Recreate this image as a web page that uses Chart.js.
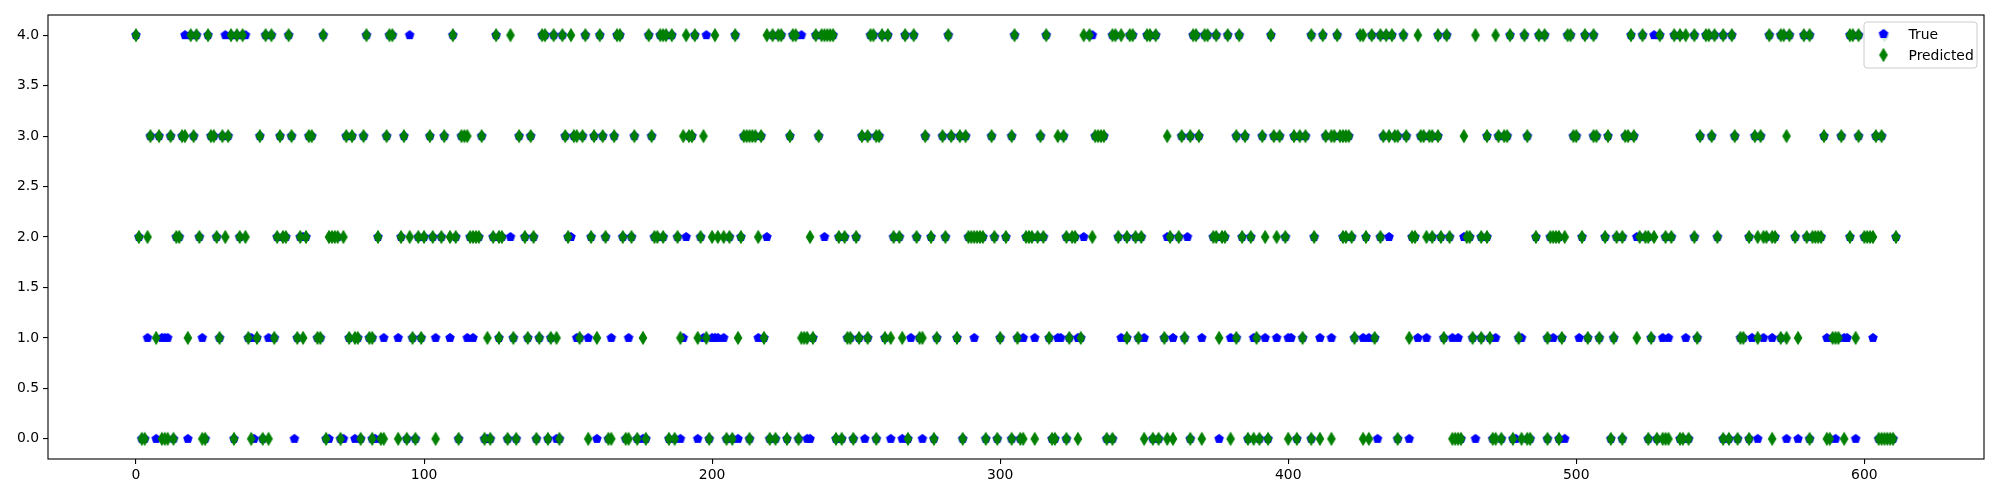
<!DOCTYPE html>
<html>
<head>
<meta charset="utf-8">
<script src="https://cdn.jsdelivr.net/npm/chart.js@4.4.1/dist/chart.umd.min.js"></script>
<style>
  html, body { margin: 0; padding: 0; background: #fff; }
  #wrap { width: 2000px; height: 500px; }
</style>
</head>
<body>
<div id="wrap"><canvas id="myChart"></canvas></div>
<script>
// classes on the y axis
const classes = [0, 1, 2, 3, 4];
const legendLabels = ['True', 'Predicted'];
const xTicks = [0, 100, 200, 300, 400, 500, 600];
const yTicks = [0, 0.5, 1, 1.5, 2, 2.5, 3, 3.5, 4];

// predicted class per sample index (green diamonds), one list per class
const predicted0 = [2, 3, 9, 10, 11, 13, 23, 24, 34, 40, 44, 46, 66, 71, 78, 82, 85, 86, 91, 94, 97, 104, 112, 121, 123, 129, 132, 139, 143, 147, 157, 164, 165, 170, 171, 174, 177, 185, 187, 199, 205, 207, 213, 220, 222, 226, 230, 243, 245, 249, 257, 268, 277, 287, 295, 299, 304, 307, 308, 312, 318, 319, 323, 327, 337, 339, 350, 353, 355, 358, 360, 366, 370, 380, 386, 388, 390, 393, 400, 403, 408, 411, 415, 426, 428, 438, 457, 458, 459, 460, 471, 472, 474, 478, 481, 483, 484, 490, 494, 512, 516, 525, 528, 530, 531, 532, 536, 537, 539, 551, 553, 556, 560, 568, 581, 587, 588, 593, 605, 606, 607, 608, 609, 610];
const predicted1 = [7, 18, 29, 39, 42, 48, 56, 58, 63, 64, 74, 76, 77, 81, 82, 96, 99, 122, 126, 131, 136, 140, 144, 146, 154, 160, 176, 189, 195, 198, 209, 218, 231, 232, 233, 235, 247, 248, 251, 254, 260, 262, 266, 272, 273, 278, 285, 300, 306, 317, 324, 328, 344, 348, 357, 364, 376, 382, 389, 405, 423, 430, 442, 454, 464, 467, 470, 480, 490, 495, 504, 508, 513, 521, 526, 542, 557, 558, 563, 571, 573, 577, 589, 590, 591, 597];
const predicted2 = [1, 4, 14, 15, 22, 28, 31, 36, 38, 49, 51, 52, 57, 59, 67, 68, 69, 70, 72, 84, 92, 95, 98, 100, 103, 106, 109, 111, 116, 117, 118, 119, 124, 126, 127, 135, 138, 150, 158, 163, 169, 172, 180, 181, 183, 188, 196, 200, 202, 204, 206, 210, 216, 234, 244, 246, 250, 263, 265, 271, 276, 281, 289, 290, 291, 292, 293, 294, 298, 302, 309, 310, 311, 313, 315, 323, 325, 326, 332, 341, 344, 347, 349, 359, 362, 374, 375, 377, 378, 384, 387, 392, 396, 399, 409, 419, 420, 422, 427, 432, 443, 444, 448, 450, 453, 456, 462, 463, 467, 469, 486, 491, 492, 493, 494, 496, 502, 510, 514, 516, 522, 524, 525, 527, 531, 533, 541, 549, 560, 563, 565, 566, 568, 569, 576, 580, 582, 583, 584, 585, 595, 600, 601, 602, 603, 611];
const predicted3 = [5, 8, 12, 16, 17, 20, 26, 27, 30, 32, 43, 50, 54, 60, 61, 73, 75, 79, 87, 93, 102, 107, 113, 114, 115, 120, 133, 137, 149, 152, 153, 155, 159, 162, 166, 173, 179, 190, 192, 193, 197, 211, 212, 213, 214, 215, 217, 227, 237, 252, 254, 257, 258, 274, 280, 283, 286, 288, 297, 304, 314, 320, 322, 333, 334, 335, 336, 358, 363, 366, 369, 382, 385, 391, 395, 397, 402, 404, 406, 413, 415, 416, 418, 419, 420, 421, 433, 435, 437, 438, 441, 446, 447, 449, 450, 452, 461, 469, 473, 475, 476, 483, 499, 500, 506, 507, 511, 517, 518, 520, 543, 547, 555, 562, 564, 573, 586, 592, 598, 604, 606];
const predicted4 = [0, 19, 21, 25, 33, 35, 37, 45, 47, 53, 65, 80, 88, 89, 110, 125, 130, 141, 142, 145, 148, 151, 156, 161, 167, 168, 178, 182, 183, 184, 186, 191, 194, 201, 208, 219, 221, 223, 224, 228, 229, 236, 238, 239, 240, 241, 242, 255, 256, 259, 261, 267, 270, 282, 305, 316, 329, 331, 339, 340, 342, 345, 346, 351, 352, 354, 367, 368, 371, 372, 375, 379, 383, 394, 408, 412, 417, 425, 426, 429, 432, 434, 436, 440, 445, 452, 455, 465, 472, 477, 482, 487, 489, 497, 498, 503, 506, 519, 523, 529, 534, 536, 538, 541, 545, 546, 548, 551, 554, 567, 571, 572, 574, 579, 581, 595, 596, 598, 607];

// true class where it differs from the prediction (blue pentagons that show)
const actual0 = [7, 18, 41, 55, 67, 72, 76, 83, 122, 146, 160, 176, 189, 195, 209, 233, 234, 253, 262, 266, 273, 376, 431, 442, 465, 479, 496, 563, 573, 577, 590, 597];
const actual1 = [4, 9, 10, 11, 23, 40, 46, 86, 91, 104, 109, 115, 117, 153, 157, 165, 171, 190, 197, 200, 201, 202, 204, 216, 269, 291, 308, 312, 320, 321, 327, 342, 350, 360, 370, 380, 388, 392, 396, 400, 401, 411, 415, 426, 428, 445, 448, 457, 459, 472, 481, 492, 501, 530, 532, 538, 561, 565, 568, 587, 593, 594, 603];
const actual2 = [58, 130, 151, 191, 219, 239, 329, 358, 365, 435, 461, 521];
const actual3 = [];
const actual4 = [17, 31, 38, 95, 198, 231, 332, 527];

const predictedByClass = [predicted0, predicted1, predicted2, predicted3, predicted4];
const actualByClass = [actual0, actual1, actual2, actual3, actual4];

// points for the library
let predictedPoints = [];
classes.forEach(c => predictedByClass[c].forEach(x => predictedPoints.push({ x: x, y: c })));
let wrong = new Set();
actualByClass.forEach(list => list.forEach(x => wrong.add(x)));
let truePoints = [];
classes.forEach(c => actualByClass[c].forEach(x => truePoints.push({ x: x, y: c })));
// where the prediction is right the true point sits under the diamond
predictedPoints.forEach(p => { if (!wrong.has(p.x)) truePoints.push({ x: p.x, y: p.y }); });

// marker images (matplotlib 'bp' and 'gd', size 6pt at 100 dpi)
function pentagon(color) {
  let c = document.createElement('canvas');
  c.width = 14; c.height = 14;
  let g = c.getContext('2d');
  g.beginPath();
  for (let k = 0; k < 5; k++) {
    let a = -Math.PI / 2 + k * 2 * Math.PI / 5;
    let px = 7 + 4.17 * Math.cos(a), py = 7 + 4.17 * Math.sin(a);
    if (k) g.lineTo(px, py); else g.moveTo(px, py);
  }
  g.closePath();
  g.fillStyle = color; g.fill();
  g.lineWidth = 1.39; g.strokeStyle = color; g.stroke();
  return c;
}
function thinDiamond(color) {
  let c = document.createElement('canvas');
  c.width = 12; c.height = 16;
  let g = c.getContext('2d');
  g.beginPath();
  g.moveTo(6, 8 - 5.9);
  g.lineTo(6 + 3.54, 8);
  g.lineTo(6, 8 + 5.9);
  g.lineTo(6 - 3.54, 8);
  g.closePath();
  g.fillStyle = color; g.fill();
  g.lineWidth = 1.39; g.strokeStyle = color; g.stroke();
  return c;
}
const blueMark = pentagon('#0000ff');
const greenMark = thinDiamond('#008000');

const font = { family: 'DejaVu Sans', size: 13.9 };

// full box around the plot + matplotlib style legend
const frameAndLegend = {
  id: 'frameAndLegend',
  afterDraw(chart) {
    let a = chart.chartArea, g = chart.ctx;
    g.save();
    g.strokeStyle = '#000';
    g.lineWidth = 1.1;
    g.strokeRect(a.left, a.top, a.right - a.left, a.bottom - a.top);

    // legend box, upper right
    let w = 113, h = 46, r = 3;
    let x = a.right - 7 - w, y = a.top + 7;
    g.beginPath();
    g.roundRect(x, y, w, h, r);
    g.fillStyle = 'rgba(255,255,255,0.8)';
    g.fill();
    g.strokeStyle = '#cccccc';
    g.lineWidth = 1;
    g.stroke();
    let marks = [blueMark, greenMark];
    g.font = font.size + 'px ' + font.family;
    g.fillStyle = '#000';
    g.textBaseline = 'middle';
    legendLabels.forEach((txt, i) => {
      let cy = y + 12 + i * 21;
      let m = marks[i];
      g.drawImage(m, x + 19.5 - m.width / 2, cy - m.height / 2);
      g.fillText(txt, x + 44.5, cy + 1);
    });
    g.restore();
  }
};

let ctx = document.getElementById('myChart').getContext('2d');
let chart = new Chart(ctx, {
  type: 'scatter',
  data: {
    datasets: [
      {
        label: legendLabels[0],
        data: truePoints,
        pointStyle: blueMark,
        pointRadius: 4,
        order: 2
      },
      {
        label: legendLabels[1],
        data: predictedPoints,
        pointStyle: greenMark,
        pointRadius: 4,
        order: 1
      }
    ]
  },
  options: {
    responsive: true,
    maintainAspectRatio: false,
    animation: false,
    events: [],
    layout: { padding: { left: 0, right: 16, top: 15, bottom: 0 } },
    plugins: {
      legend: { display: false },
      tooltip: { enabled: false }
    },
    scales: {
      x: {
        type: 'linear',
        min: -30.55,
        max: 641.55,
        afterBuildTicks: axis => { axis.ticks = xTicks.map(v => ({ value: v })); },
        afterFit: axis => { axis.height = 41; },
        border: { display: false },
        grid: { display: true, drawOnChartArea: false, drawTicks: true, tickLength: 5, color: '#000', lineWidth: 1.1 },
        ticks: { color: '#000', font: font, padding: 3, autoSkip: false, maxRotation: 0, callback: v => String(v) }
      },
      y: {
        type: 'linear',
        min: -0.2,
        max: 4.2,
        afterBuildTicks: axis => { axis.ticks = yTicks.map(v => ({ value: v })); },
        afterFit: axis => { axis.width = 48; },
        border: { display: false },
        grid: { display: true, drawOnChartArea: false, drawTicks: true, tickLength: 5, color: '#000', lineWidth: 1.1 },
        ticks: { color: '#000', font: font, padding: 4, autoSkip: false, callback: v => Number(v).toFixed(1) }
      }
    }
  },
  plugins: [frameAndLegend]
});
</script>
</body>
</html>
